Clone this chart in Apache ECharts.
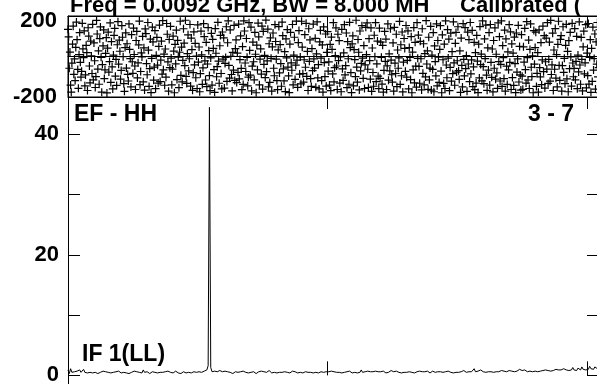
<!DOCTYPE html>
<html><head><meta charset="utf-8">
<script src="https://cdn.jsdelivr.net/npm/echarts@6/dist/echarts.min.js"></script>
<style>html,body{margin:0;padding:0;background:#fff}#c{width:597px;height:384px}</style>
</head><body><div id="c"></div>
<script>
// Channel spacing of the two series (channel units)
const phaseStep = 0.25;
const ampStep = 0.5;
// Tick labels shown
const phaseTickLabels = [-200, 200];
const ampTickLabels = [0, 20, 40];
// Text labels
const titleText = 'Freq = 0.0092 GHz, BW = 8.000 MH     Calibrated (';
const baselineLabel = 'EF - HH';
const timeLabel = '3 - 7';
const ifLabel = 'IF 1(LL)';
// Phase (degrees) per sample
const phase = [
134,97,-58,22,-141,-176,-33,61,150,-88,-12,-119,45,170,83,-64,-157,9,118,-29,
-102,-73,164,38,-6,127,-145,-91,55,19,-168,142,101,-47,-130,76,3,-84,159,-115,
67,-21,-153,-99,178,111,-62,28,-137,88,146,-4,-176,-40,52,131,-109,-66,15,93,
-180,41,120,-77,-25,166,-128,73,-51,-160,7,104,139,-97,-14,-143,58,172,-38,81,
26,-112,-69,152,95,-1,-134,-172,44,117,-57,63,-88,-121,161,35,-10,-150,108,-26,
-83,140,10,-47,-163,79,124,-106,-31,57,175,-139,-74,18,-2,99,-125,43,-166,136,
113,-35,-90,168,31,-148,-60,86,-178,-9,145,72,-117,-52,128,-159,6,94,-43,-131,
50,155,-124,-18,76,-87,177,-66,12,-142,37,-102,163,110,-27,-171,84,-55,149,-8,
-140,-62,101,27,-179,60,-36,130,-114,80,-3,-154,21,174,-93,46,-125,-19,137,66,
-45,179,-98,-133,14,107,-71,-11,158,-146,91,34,-167,-80,122,-41,65,-105,2,-158,
156,-28,47,-174,-85,125,8,-138,-56,162,98,-22,-116,70,-149,-37,143,29,-94,-169,
-7,114,-141,85,40,-65,-177,138,16,-100,-50,169,-23,-132,53,104,-84,-160,121,-13,
92,-156,-34,-5,147,-123,68,176,-44,-107,131,1,-89,-170,20,-67,154,-118,39,82,
-129,17,-78,160,-110,-15,102,-59,-164,49,-138,176,126,-32,-74,89,-4,-145,-102,167,
30,-92,145,-170,-48,71,-26,-115,119,11,-179,56,-66,165,97,-140,-13,38,-87,150,
-161,124,-39,6,-104,180,-75,-22,135,-150,63,-128,92,-9,-171,48,116,-58,-95,157,
74,-13,-119,-164,33,148,-81,59,-35,-147,170,103,-61,-120,24,-173,87,-7,133,-52,
-96,-178,61,119,-31,-68,158,-140,7,95,-113,-43,175,-18,-152,69,128,-87,-3,-135,
174,46,-85,-127,-16,108,-53,164,-98,25,-168,137,-24,82,-109,-148,39,-70,160,-12,
-57,90,-152,13,171,-106,-40,-160,72,129,-8,-119,57,-176,146,-30,-99,111,-146,20,
123,-72,-27,-141,60,-169,96,35,-86,167,-125,-55,4,141,-47,-163,110,-20,78,-131,
-2,-174,134,-61,-118,18,157,-91,-45,116,-154,73,-11,-137,169,44,-80,-178,62,102,
-145,34,-15,-99,179,-52,-127,84,21,-165,126,-71,-34,152,-8,-108,54,-158,-41,144,
9,166,-63,-153,88,-20,-112,141,-172,42,-79,-147,105,-1,167,-124,-36,76,-97,-159,
140,-108,71,-4,-136,55,-176,-69,124,-24,86,-163,-46,161,-117,13,-71,137,-18,-90,
-127,67,-171,144,-33,-84,110,-149,32,-58,-7,173,-138,58,-95,121,-175,-28,89,40,
-73,153,-102,-19,127,-160,44,-5,-114,98,-179,22,-66,143,-130,70,-48,-151,167,-9,
106,-49,-132,75,-11,-165,137,-83,63,-140,14,-101,177,-37,28,-162,95,-115,-57,149,
-166,7,-64,118,-174,52,-25,-96,161,-145,79,-3,-128,35,152,-72,-179,107,-16,-133,
61,-158,176,-42,-105,133,-8,86,-169,-54,115,-122,24,-85,171,-31,-142,65,119,-77,
-21,147,-70,-113,28,-177,91,-44,-150,162,-14,-96,143,-60,5,-172,120,-37,83,-124,
168,-86,-17,129,-149,-51,70,-164,19,-131,104,-23,-178,61,-106,148,-40,12,-120,176,
-50,-134,87,-10,155,-92,-167,43,-67,118,-141,158,-29,-103,37,-175,79,-58,141,-112,
11,-81,-157,166,-25,98,-121,-39,176,-148,54,-6,-109,130,-171,87,-48,-138,23,-66,
157,-29,122,-163,62,-104,17,-143,96,-35,-178,116,-77,-12,154,-126,50,-91,-166,108,
-97,-162,48,-28,139,-65,-131,172,-6,-116,81,-158,35,161,-53,-99,3,-179,128,-38,
44,120,-148,-83,19,-176,131,-55,-101,69,-139,-17,150,-75,103,-156,-26,91,-62,167,
-133,-14,71,-122,178,-89,-41,115,-168,32,-63,138,-107,9,-150,60,174,-44,-118,85,
103,-171,-45,147,-78,-9,-134,55,159,-110,25,-174,78,-60,119,-2,-146,164,-32,-100,
-59,138,-115,-24,99,-159,7,-76,171,-42,-137,94,-14,-170,48,125,-86,-31,157,-155,
17,-94,163,-136,-4,83,-177,40,-123,145,-67,-10,111,-161,72,-38,168,-101,-55,132,
-179,61,-31,-108,150,-71,24,-145,88,-19,175,-128,-49,67,-165,6,-92,143,-129,50
];
// Amplitude per sample
const amplitude = [
0.9,0.3,1.1,0.5,0.4,0.6,0.5,0.7,0.4,0.9,0.5,0.6,1.0,0.5,0.7,0.4,0.6,0.5,0.8,0.4,
0.6,0.5,0.7,0.3,0.6,0.5,0.4,0.7,0.5,0.6,0.4,0.5,0.8,0.4,0.6,0.5,0.3,0.6,0.5,0.7,
0.5,0.4,0.6,0.5,0.7,0.4,0.5,0.3,0.6,0.5,0.4,0.7,0.5,0.6,0.4,0.5,0.6,0.4,0.9,0.5,
0.4,0.6,0.5,0.3,0.5,0.6,0.4,0.5,0.7,0.4,0.6,0.5,0.3,0.5,0.4,0.6,0.5,0.7,0.4,0.5,
0.6,0.4,0.5,0.7,0.5,0.4,0.6,0.3,0.5,0.6,0.5,0.4,0.6,0.5,0.7,0.4,0.5,0.6,0.4,0.5,
0.5,0.6,0.4,0.5,0.6,0.7,0.5,0.9,1.6,44.5,1.3,0.6,0.4,0.7,0.5,0.6,0.4,0.8,0.5,0.6,
0.4,0.7,0.5,0.6,0.4,0.5,0.6,0.3,0.5,0.6,0.7,0.5,0.4,0.6,0.5,0.7,0.4,0.5,0.6,0.4,
0.6,0.5,0.4,0.6,0.5,0.3,0.5,0.6,0.4,0.7,0.5,0.6,0.4,0.5,0.6,0.8,0.5,0.4,0.6,0.5,
0.5,0.4,0.6,0.5,0.7,0.5,0.4,0.6,0.3,0.5,0.6,0.4,0.5,0.7,0.4,0.6,0.5,0.4,0.6,0.5,
0.7,0.4,0.5,0.6,0.4,0.5,0.8,0.5,0.6,0.4,0.7,0.5,0.6,0.4,0.5,0.6,0.7,0.5,0.4,0.6,
0.5,0.6,0.4,0.7,0.5,0.6,0.4,0.5,0.6,0.5,0.7,0.4,0.6,0.5,0.4,0.6,0.5,0.7,0.6,0.4,
0.6,0.5,0.7,0.4,0.6,0.5,0.9,0.5,0.4,0.6,0.5,0.7,0.4,0.6,0.5,0.6,0.4,0.7,0.5,0.6,
0.4,0.6,0.5,0.7,0.5,0.4,0.6,0.5,0.6,0.8,0.5,0.6,0.4,0.7,0.6,0.5,0.7,0.4,0.6,0.5,
0.6,0.5,0.4,0.6,0.7,0.5,0.6,0.4,0.5,0.6,0.5,0.7,0.5,0.6,0.4,0.6,0.5,0.7,0.5,0.4,
0.5,0.7,0.6,0.5,0.4,0.6,0.5,0.6,0.7,0.5,0.4,0.6,0.5,0.7,0.6,0.5,0.6,0.4,0.7,0.5,
0.6,0.5,0.7,0.6,0.5,0.8,0.6,0.5,0.7,0.6,0.9,0.6,0.7,1.1,0.6,0.8,0.7,0.6,0.9,0.7,
0.6,0.8,0.5,0.7,0.6,0.9,0.6,0.7,0.5,0.8,0.6,0.7,0.6,0.5,0.8,0.6,0.7,0.9,0.6,0.7,
0.8,0.6,0.7,0.9,0.6,0.8,0.7,0.6,1.0,0.7,0.8,0.6,0.9,0.7,0.6,0.8,0.7,0.9,0.6,0.8,
0.7,0.9,0.6,0.8,0.7,1.0,0.8,0.7,0.9,0.6,0.8,1.1,0.7,0.9,0.8,0.7,1.0,0.8,0.9,0.7,
0.9,0.8,1.1,0.8,0.9,1.2,0.8,1.0,0.9,1.3,0.9,1.1,0.8,1.2,1.0,0.9,1.4,1.0,1.1,0.9,
1.2,1.0,1.5,1.1,1.3,1.0,1.4,1.2,1.1,1.6,1.2,1.0,1.3,1.1,1.4,1.2,1.1,1.3,1.2,1.0
];

const FONT = 'Liberation Sans, Arial, sans-serif';
const chart = echarts.init(document.getElementById('c'), null, {renderer: 'canvas'});
const labelStyle = {color: '#000', fontSize: 22, fontWeight: 'bold', fontFamily: FONT};
const plus = 'path://M3.4,0H4.6V3.4H8V4.6H4.6V8H3.4V4.6H0V3.4H3.4Z';
const xCommon = {type: 'value', min: 0, max: 210, interval: 100,
  axisLabel: {show: false}, splitLine: {show: false}};
const ampH = 56.2 * 6.025;

chart.setOption({
  animation: false,
  backgroundColor: '#fff',
  grid: [
    {left: 68, top: 16, width: 545, height: 81, show: true, borderColor: '#000', borderWidth: 1, backgroundColor: 'transparent', outerBoundsMode: 'none', containLabel: false},
    {left: 68, top: 97, width: 545, height: ampH, outerBoundsMode: 'none', containLabel: false},
    {left: 587, top: 97, width: 100, height: ampH, outerBoundsMode: 'none', containLabel: false}
  ],
  xAxis: [
    Object.assign({}, xCommon, {gridIndex: 0, position: 'bottom', axisLine: {show: true, lineStyle: {color: '#000'}}, axisTick: {inside: true, length: 12, lineStyle: {color: '#000'}}}),
    Object.assign({}, xCommon, {gridIndex: 0, position: 'top', axisLine: {show: true, lineStyle: {color: '#000'}}, axisTick: {inside: true, length: 12, lineStyle: {color: '#000'}}}),
    Object.assign({}, xCommon, {gridIndex: 1, position: 'bottom', offset: -48.6, axisLine: {show: false}, axisTick: {inside: true, length: 14, lineStyle: {color: '#000'}}}),
    Object.assign({}, xCommon, {gridIndex: 1, position: 'top', axisLine: {show: true, lineStyle: {color: '#000'}}, axisTick: {inside: true, length: 12, lineStyle: {color: '#000'}}}),
    Object.assign({}, xCommon, {gridIndex: 2, show: false})
  ],
  yAxis: [
    {type: 'value', gridIndex: 0, min: -200, max: 200, interval: 200,
      axisLine: {show: true, lineStyle: {color: '#000'}}, axisTick: {show: false},
      splitLine: {show: true, lineStyle: {color: '#000', width: 1}},
      axisLabel: Object.assign({}, labelStyle, {margin: 11,
        formatter: v => v === 200 ? '{t|200}' : (phaseTickLabels.includes(v) ? String(v) : ''),
        rich: {t: {color: '#000', fontSize: 22, fontWeight: 'bold', fontFamily: FONT, padding: [9, 0, 0, 0]}}})},
    {type: 'value', gridIndex: 1, min: -10, max: 46.2, interval: 10,
      axisLine: {show: true, lineStyle: {color: '#000'}},
      axisTick: {inside: true, length: 12, lineStyle: {color: '#000'}},
      splitLine: {show: false},
      axisLabel: Object.assign({}, labelStyle, {margin: 9,
        formatter: v => ampTickLabels.includes(v) ? String(v) : ''})},
    {type: 'value', gridIndex: 2, min: -10, max: 46.2, interval: 10,
      axisLine: {show: false},
      axisTick: {inside: true, length: 10, lineStyle: {color: '#000'}},
      splitLine: {show: false}, axisLabel: {show: false}}
  ],
  series: [
    {type: 'scatter', xAxisIndex: 0, yAxisIndex: 0, symbol: plus, symbolSize: 8,
      itemStyle: {color: '#000', opacity: 1}, silent: true,
      data: phase.map((v, i) => [i * phaseStep, v])},
    {type: 'line', xAxisIndex: 2, yAxisIndex: 1, symbol: 'none', silent: true,
      lineStyle: {color: '#000', width: 1},
      data: amplitude.map((v, i) => [i * ampStep, v])}
  ],
  graphic: [
    {type: 'text', left: 70, top: -5, style: {text: titleText, font: 'bold 22px ' + FONT, fill: '#000'}},
    {type: 'text', left: 74, top: 103, style: {text: baselineLabel, font: 'bold 23px ' + FONT, fill: '#000'}},
    {type: 'text', right: 23, top: 103, style: {text: timeLabel, font: 'bold 23px ' + FONT, fill: '#000'}},
    {type: 'text', left: 82, top: 343, style: {text: ifLabel, font: 'bold 23px ' + FONT, fill: '#000'}}
  ]
});
</script></body></html>
